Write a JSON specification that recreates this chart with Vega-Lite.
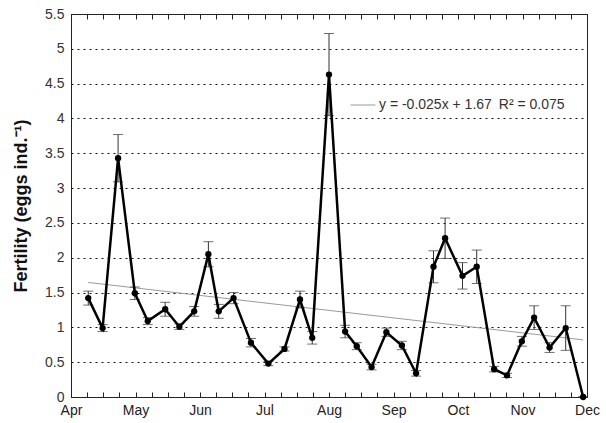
{
  "$schema": "https://vega.github.io/schema/vega-lite/v6.json",
  "width": 516,
  "height": 383,
  "autosize": {"type": "none"},
  "padding": {"left": 71, "top": 14, "right": 19, "bottom": 26},
  "background": "white",
  "config": {
    "view": {"stroke": "#222", "strokeWidth": 1},
    "font": "Liberation Sans",
    "axis": {"labelFont": "Liberation Sans", "titleFont": "Liberation Sans"}
  },
  "datasets": {
    "obs": [
      {"week": 1.07, "value": 1.42, "se": 0.10},
      {"week": 1.96, "value": 0.99, "se": 0.05},
      {"week": 2.92, "value": 3.43, "se": 0.34},
      {"week": 3.96, "value": 1.49, "se": 0.09},
      {"week": 4.76, "value": 1.09, "se": 0.05},
      {"week": 5.84, "value": 1.26, "se": 0.10},
      {"week": 6.72, "value": 1.01, "se": 0.04},
      {"week": 7.64, "value": 1.23, "se": 0.07},
      {"week": 8.52, "value": 2.05, "se": 0.18},
      {"week": 9.16, "value": 1.23, "se": 0.10},
      {"week": 10.08, "value": 1.42, "se": 0.08},
      {"week": 11.16, "value": 0.78, "se": 0.06},
      {"week": 12.24, "value": 0.48, "se": 0.03},
      {"week": 13.24, "value": 0.69, "se": 0.03},
      {"week": 14.2, "value": 1.40, "se": 0.12},
      {"week": 14.96, "value": 0.85, "se": 0.09},
      {"week": 16.0, "value": 4.63, "se": 0.59},
      {"week": 17.0, "value": 0.94, "se": 0.09},
      {"week": 17.72, "value": 0.73, "se": 0.05},
      {"week": 18.64, "value": 0.43, "se": 0.04},
      {"week": 19.56, "value": 0.93, "se": 0.06},
      {"week": 20.52, "value": 0.74, "se": 0.06},
      {"week": 21.4, "value": 0.34, "se": 0.04},
      {"week": 22.48, "value": 1.87, "se": 0.23},
      {"week": 23.2, "value": 2.28, "se": 0.29},
      {"week": 24.28, "value": 1.74, "se": 0.19},
      {"week": 25.16, "value": 1.87, "se": 0.24},
      {"week": 26.24, "value": 0.40, "se": 0.04},
      {"week": 27.04, "value": 0.31, "se": 0.03},
      {"week": 27.96, "value": 0.80, "se": 0.07},
      {"week": 28.72, "value": 1.14, "se": 0.17},
      {"week": 29.68, "value": 0.71, "se": 0.07},
      {"week": 30.68, "value": 0.99, "se": 0.32},
      {"week": 31.76, "value": 0.0, "se": 0.0}
    ],
    "trend": [
      {"week": 1.07, "fit": 1.645, "label": "y = -0.025x + 1.67\u2002R² = 0.075"},
      {"week": 31.76, "fit": 0.82, "label": "y = -0.025x + 1.67\u2002R² = 0.075"}
    ]
  },
  "resolve": {"axis": {"x": "independent", "y": "independent"}},
  "layer": [
    {
      "data": {"name": "trend"},
      "mark": {"type": "line", "strokeWidth": 1},
      "encoding": {
        "x": {
          "field": "week", "type": "quantitative",
          "scale": {"domain": [0, 32], "nice": false, "zero": false},
          "axis": {
            "orient": "top", "title": null, "labels": false, "grid": false,
            "domainColor": "#222", "tickColor": "#222", "tickSize": -5, "tickWidth": 1, "ticks": true,
            "values": [0,1,2,3,4,5,6,7,8,9,10,11,12,13,14,15,16,17,18,19,20,21,22,23,24,25,26,27,28,29,30,31,32]
          }
        },
        "y": {
          "field": "fit", "type": "quantitative",
          "scale": {"domain": [0, 5.5], "nice": false},
          "axis": {
            "title": "Fertility (eggs ind.⁻¹)",
            "titleFontSize": 18, "titleFontWeight": "bold", "titleColor": "#111",
            "titlePadding": 14,
            "values": [0, 0.5, 1, 1.5, 2, 2.5, 3, 3.5, 4, 4.5, 5, 5.5],
            "format": "~g",
            "labelFontSize": 14, "labelColor": "#333", "labelPadding": 7,
            "labelOverlap": false,
            "ticks": false,
            "domainColor": "#222",
            "grid": true, "gridColor": "#111", "gridDash": [2, 4], "gridWidth": 1
          }
        },
        "color": {
          "field": "label", "type": "nominal",
          "scale": {"range": ["#9a9a9a"]},
          "legend": {
            "orient": "none", "legendX": 279, "legendY": 78,
            "title": null, "symbolType": "stroke", "symbolSize": 625,
            "symbolStrokeWidth": 1, "labelFontSize": 14, "labelColor": "#333",
            "labelOffset": 3, "padding": 0, "labelLimit": 400
          }
        }
      }
    },
    {
      "data": {"name": "obs"},
      "mark": {"type": "errorbar", "ticks": {"size": 10, "thickness": 1}, "color": "#333", "thickness": 1},
      "encoding": {
        "x": {
          "field": "week", "type": "quantitative",
          "axis": {
            "orient": "bottom", "title": null, "grid": false, "ticks": true,
            "values": [0,1,2,3,4,5,6,7,8,9,10,11,12,13,14,15,16,17,18,19,20,21,22,23,24,25,26,27,28,29,30,31,32],
            "labelExpr": "datum.value % 4 == 0 ? ['Apr','May','Jun','Jul','Aug','Sep','Oct','Nov','Dec'][round(datum.value / 4)] : ''",
            "domainColor": "#222", "tickColor": "#222", "tickSize": -5, "tickWidth": 1,
            "labelFontSize": 14, "labelColor": "#222", "labelPadding": 11,
            "labelFlush": false, "labelOverlap": false
          }
        },
        "y": {"field": "value", "type": "quantitative", "axis": null},
        "yError": {"field": "se"}
      }
    },
    {
      "data": {"name": "obs"},
      "mark": {"type": "line", "color": "#000", "strokeWidth": 2.5},
      "encoding": {
        "x": {"field": "week", "type": "quantitative", "axis": null},
        "y": {"field": "value", "type": "quantitative", "axis": null}
      }
    },
    {
      "data": {"name": "obs"},
      "mark": {"type": "circle", "color": "#000", "opacity": 1, "size": 40},
      "encoding": {
        "x": {"field": "week", "type": "quantitative", "axis": null},
        "y": {"field": "value", "type": "quantitative", "axis": null}
      }
    }
  ]
}
